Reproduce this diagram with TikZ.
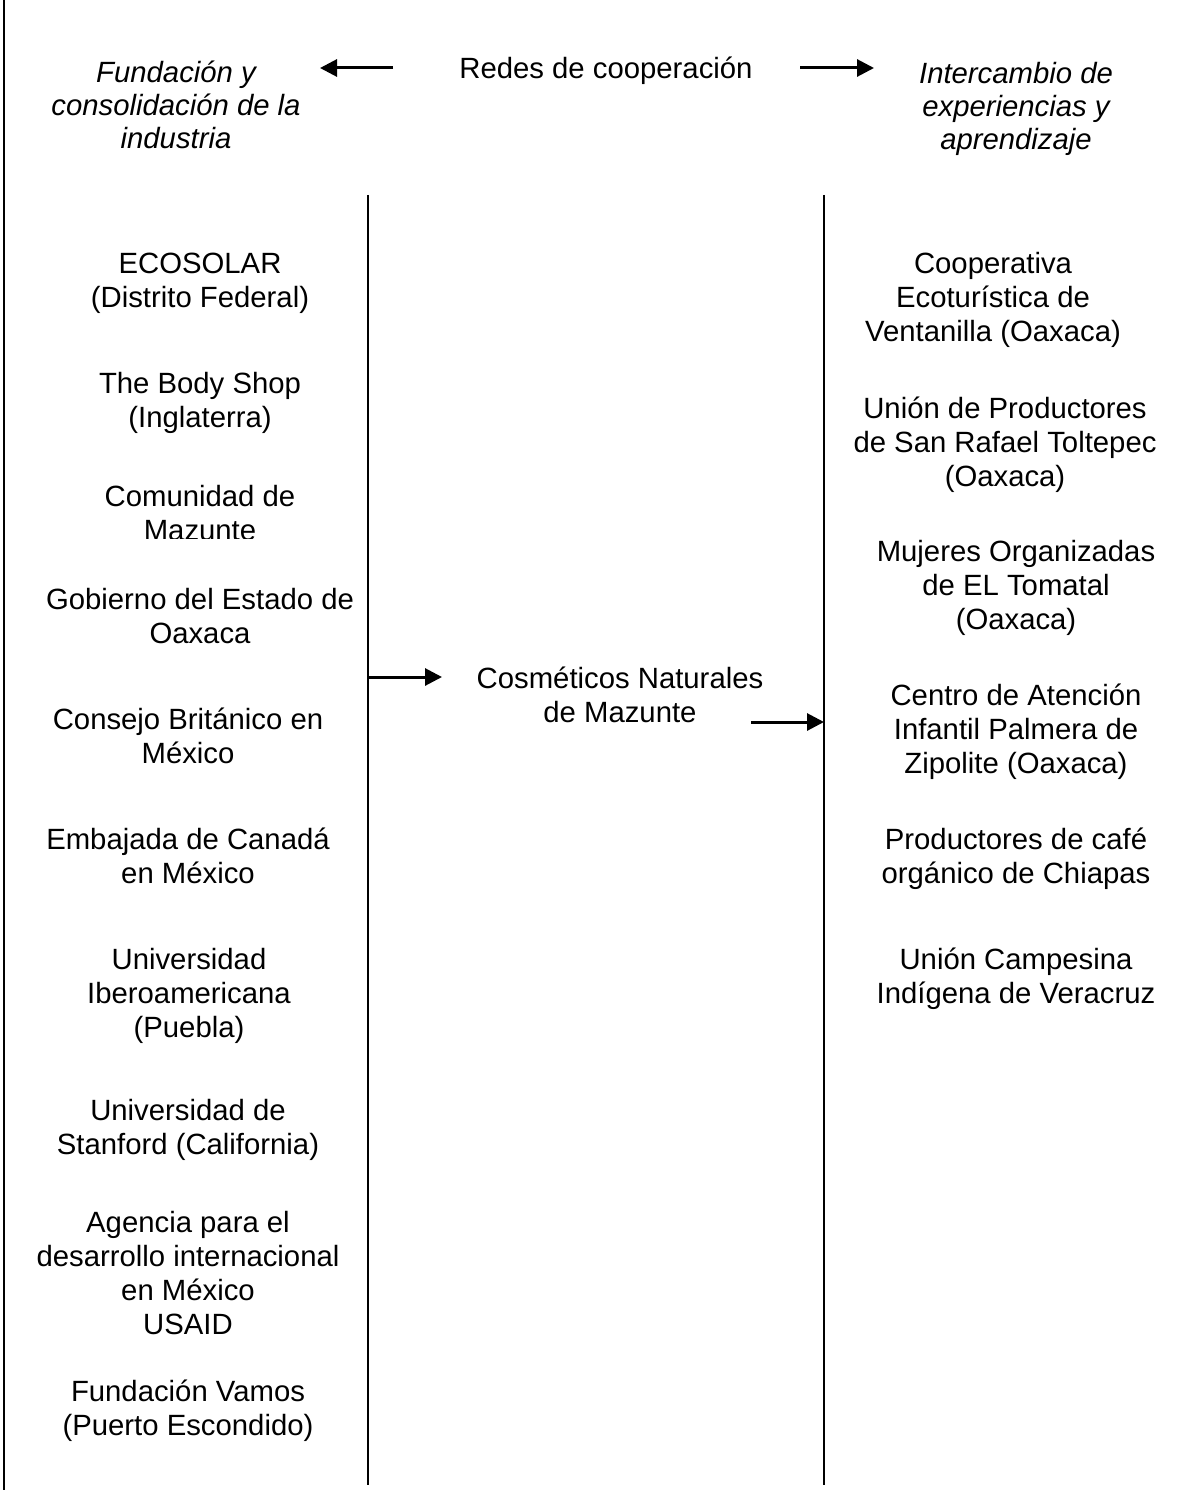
\documentclass[tikz,border=0pt]{standalone}
\usepackage{fontspec}
\setmainfont{Liberation Sans}
\usetikzlibrary{arrows.meta}
\begin{document}
\begin{tikzpicture}[x=1pt,y=-1pt,
  txt/.style={align=center,inner sep=0pt,font=\fontsize{29.3}{34}\selectfont},
  hdr/.style={txt,font=\fontsize{29.3}{33}\selectfont\itshape},
  vline/.style={line width=1.8pt},
  arr/.style={line width=3pt,-{Triangle[length=17pt,width=17pt]}}]
\useasboundingbox (0,0) rectangle (1180,1490);
% frame line
\coordinate (ft) at (4,0);
\coordinate (fb) at (4,1490);
\draw[vline] (ft) -- (fb);
% headers
\node[hdr] (fund) at (176,105) {Fundación y\\consolidación de la\\industria};
\node[txt] (redes) at (606,71) {Redes de cooperación};
\node[hdr] (inter) at (1016,109) {Intercambio de\\experiencias y\\aprendizaje};
\coordinate (al1) at (393,68);
\coordinate (al2) at (320,68);
\coordinate (ar1) at (800,68);
\coordinate (ar2) at (874,68);
\draw[arr] (al1) -- (al2);
\draw[arr] (ar1) -- (ar2);
% vertical lines
\coordinate (vlt) at (368,195);
\coordinate (vlb) at (368,1485);
\coordinate (vrt) at (824,195);
\coordinate (vrb) at (824,1485);
\draw[vline] (vlt) -- (vlb);
\draw[vline] (vrt) -- (vrb);
% left column
\node[txt] (l1) at (200,283) {ECOSOLAR\\(Distrito Federal)};
\node[txt] (l2) at (200,403) {The Body Shop\\(Inglaterra)};
\begin{scope}
\clip (0,0) rectangle (368,538);
\node[txt] (l3) at (200,513) {Comunidad de\\Mazunte};
\end{scope}
\node[txt] (l4) at (200,616) {Gobierno del Estado de\\Oaxaca};
\node[txt] (l5) at (188,736) {Consejo Británico en\\México};
\node[txt] (l6) at (188,856) {Embajada de Canadá\\en México};
\node[txt] (l7) at (189,996) {Universidad\\Iberoamericana\\(Puebla)};
\node[txt] (l8) at (188,1130) {Universidad de\\Stanford (California)};
\node[txt] (l9) at (188,1273) {Agencia para el\\desarrollo internacional\\en México\\USAID};
\node[txt] (l10) at (188,1411) {Fundación Vamos\\(Puerto Escondido)};
% middle
\node[txt] (cos) at (620,695) {Cosméticos Naturales\\de Mazunte};
\coordinate (m1a) at (368,677);
\coordinate (m1b) at (442,677);
\coordinate (m2a) at (751,722);
\coordinate (m2b) at (824,722);
\draw[arr] (m1a) -- (m1b);
\draw[arr] (m2a) -- (m2b);
% right column
\node[txt] (r1) at (993,300) {Cooperativa\\Ecoturística de\\Ventanilla (Oaxaca)};
\node[txt] (r2) at (1005,445) {Unión de Productores\\de San Rafael Toltepec\\(Oaxaca)};
\node[txt] (r3) at (1016,588) {Mujeres Organizadas\\de EL Tomatal\\(Oaxaca)};
\node[txt] (r4) at (1016,732) {Centro de Atención\\Infantil Palmera de\\Zipolite (Oaxaca)};
\node[txt] (r5) at (1016,859) {Productores de café\\orgánico de Chiapas};
\node[txt] (r6) at (1016,979) {Unión Campesina\\Indígena de Veracruz};
\end{tikzpicture}
\end{document}
